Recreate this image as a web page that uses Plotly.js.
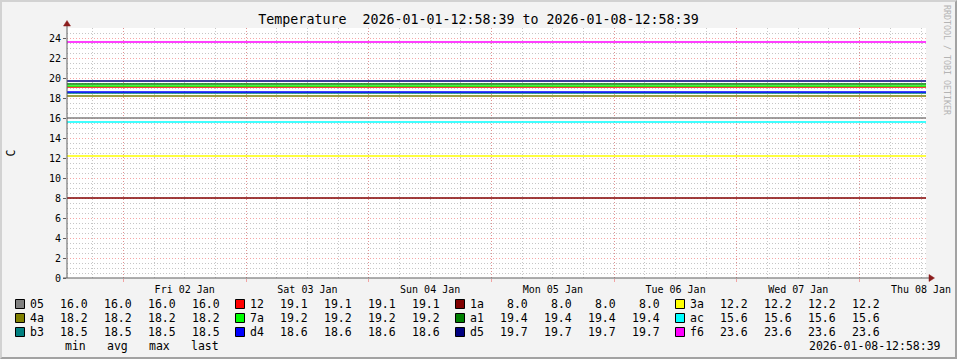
<!DOCTYPE html>
<html><head><meta charset="utf-8">
<script src="https://cdn.plot.ly/plotly-3.0.1.min.js"></script>
<style>
html,body{margin:0;padding:0;background:#f3f3f3}
#wrap{position:relative;width:957px;height:359px;overflow:hidden}
#chart{width:957px;height:359px}
#frame{position:absolute;left:0;top:0;width:957px;height:359px;box-sizing:border-box;border-top:2px solid #d2d2d2;border-left:2px solid #d2d2d2;border-right:2px solid #a2a2a2;border-bottom:2px solid #a2a2a2;pointer-events:none}
</style></head><body>
<div id="wrap"><div id="chart"></div><div id="frame"></div></div>
<script>
// ---- data ----
const seriesNames  = ["05","12","1a","3a","4a","7a","a1","ac","b3","d4","d5","f6"];
const seriesColors = ["#808080","#FF0000","#800000","#FFFF00","#808000","#00FF00","#008000","#00FFFF","#008080","#0000FF","#000080","#FF00FF"];
const seriesValues = [16.0, 19.1, 8.0, 12.2, 18.2, 19.2, 19.4, 15.6, 18.5, 18.6, 19.7, 23.6];
const statMin  = [16.0, 19.1, 8.0, 12.2, 18.2, 19.2, 19.4, 15.6, 18.5, 18.6, 19.7, 23.6];
const statAvg  = [16.0, 19.1, 8.0, 12.2, 18.2, 19.2, 19.4, 15.6, 18.5, 18.6, 19.7, 23.6];
const statMax  = [16.0, 19.1, 8.0, 12.2, 18.2, 19.2, 19.4, 15.6, 18.5, 18.6, 19.7, 23.6];
const statLast = [16.0, 19.1, 8.0, 12.2, 18.2, 19.2, 19.4, 15.6, 18.5, 18.6, 19.7, 23.6];
const statHeaders = ["min","avg","max","last"];
const startTime = "2026-01-01 12:58:39";
const endTime   = "2026-01-08 12:58:39";
const startLabel = "2026-01-01-12:58:39";
const endLabel   = "2026-01-08-12:58:39";
const dayGridTimes  = ["2026-01-02 00:00","2026-01-03 00:00","2026-01-04 00:00","2026-01-05 00:00","2026-01-06 00:00","2026-01-07 00:00","2026-01-08 00:00"];
const dayLabelTimes = ["2026-01-02 12:00","2026-01-03 12:00","2026-01-04 12:00","2026-01-05 12:00","2026-01-06 12:00","2026-01-07 12:00","2026-01-08 12:00"];
const dayLabels     = ["Fri 02 Jan","Sat 03 Jan","Sun 04 Jan","Mon 05 Jan","Tue 06 Jan","Wed 07 Jan","Thu 08 Jan"];
const chartTitle = "Temperature";
const yLabel = "C";
const watermark = "RRDTOOL / TOBI OETIKER";

// ---- geometry ----
const W = 957, H = 359;
const M = {l:67, r:31, t:28, b:81};
const PW = W - M.l - M.r, PH = H - M.t - M.b;
const px = x => (x - M.l) / PW;
const py = y => (H - M.b - y) / PH;
const MONO = "DejaVu Sans Mono";
const MAJ = "rgba(240,110,110,0.6)";
const MIN = "#c6c6c6";
const DASH = "1px,2px";

const traces = seriesNames.map((n, i) => ({
  type: "scatter", mode: "lines", name: n,
  x: [startTime, endTime], y: [seriesValues[i], seriesValues[i]],
  line: {color: seriesColors[i], width: 1.6},
  xaxis: "x", yaxis: "y", showlegend: false, hoverinfo: "skip"
}));
traces.push({type:"scatter", mode:"lines", x:[startTime,endTime], y:[null,null],
  xaxis:"x2", yaxis:"y", showlegend:false, hoverinfo:"skip"});

const annotations = [];
const shapes = [];
const colOff = 220, rowH = 14, row0 = 304;
const valRight = [87.5, 131.5, 175.5, 219.5];
const hdrCenter = [75, 117, 159, 205];
const fnt = {family: MONO, size: 11.5, color: "#000"};
const ann = (x, y, text, xanchor, extra) => Object.assign({
  xref:"paper", yref:"paper", x: px(x), y: py(y), text, xanchor, yanchor:"middle",
  showarrow:false, font: fnt, borderpad:0, borderwidth:0
}, extra || {});

seriesNames.forEach((n, i) => {
  const row = Math.floor(i / 4), col = i % 4;
  const off = col * colOff, yc = row0 + row * rowH;
  shapes.push({type:"rect", xref:"paper", yref:"paper",
    x0: px(15.5 + off), x1: px(24.5 + off), y0: py(yc + 4.5), y1: py(yc - 4.5),
    fillcolor: seriesColors[i], line:{color:"#000", width:1}});
  annotations.push(ann(30 + off, yc, n, "left"));
  [statMin[i], statAvg[i], statMax[i], statLast[i]].forEach((v, k) => {
    annotations.push(ann(valRight[k] + off, yc, v.toFixed(1), "right"));
  });
});
statHeaders.forEach((h, k) => annotations.push(ann(hdrCenter[k], row0 + 3*rowH, h, "center")));
annotations.push(ann(941, row0 + 3*rowH, endLabel, "right"));
annotations.push(ann(947, 60, watermark, "center",
  {textangle: 90, font:{family: MONO, size: 8.3, color:"#b4b4b4"}}));

// axis lines and arrows
const AX = "#5f5f5f", ARR = "#8b1c1c";
shapes.push({type:"line", xref:"paper", yref:"paper", x0:px(67), x1:px(67), y0:py(278), y1:py(24), line:{color:AX, width:1}});
shapes.push({type:"line", xref:"paper", yref:"paper", x0:px(63), x1:px(930), y0:py(278), y1:py(278), line:{color:AX, width:1}});
shapes.push({type:"path", xref:"paper", yref:"paper", fillcolor:ARR, line:{color:ARR, width:0.5},
  path:`M ${px(67)} ${py(20.5)} L ${px(63.5)} ${py(26)} L ${px(70.5)} ${py(26)} Z`});
shapes.push({type:"path", xref:"paper", yref:"paper", fillcolor:ARR, line:{color:ARR, width:0.5},
  path:`M ${px(934.5)} ${py(278)} L ${px(929)} ${py(274.5)} L ${px(929)} ${py(281.5)} Z`});

const layout = {
  width: W, height: H, margin: M,
  paper_bgcolor: "#f3f3f3", plot_bgcolor: "#ffffff",
  font: {family: MONO, color: "#000"},
  title: {text: chartTitle + "  " + startLabel + " to " + endLabel,
    font: {family: MONO, size: 13.3, color: "#000"},
    x: 0.5, xref: "container", y: 1 - 19/H, yref: "container", yanchor: "middle"},
  xaxis: {
    type: "date", range: [startTime, endTime],
    tickmode: "array", tickvals: dayGridTimes, showticklabels: false,
    showgrid: true, gridcolor: MAJ, griddash: DASH, gridwidth: 1,
    ticks: "outside", ticklen: 3, tickcolor: MAJ,
    minor: {tickmode: "linear", tick0: "2026-01-01 00:00", dtick: 21600000,
      showgrid: true, gridcolor: MIN, griddash: DASH, gridwidth: 1, ticks: ""},
    showline: false, zeroline: false, fixedrange: true
  },
  xaxis2: {
    type: "date", range: [startTime, endTime], overlaying: "x", anchor: "y", side: "bottom",
    tickmode: "array", tickvals: dayLabelTimes, ticktext: dayLabels,
    showgrid: false, ticks: "", showline: false, zeroline: false,
    tickfont: {family: MONO, size: 10, color: "#000"}, ticklabelstandoff: 4
  },
  yaxis: {
    range: [0, 25], tickmode: "linear", tick0: 0, dtick: 2,
    showgrid: true, gridcolor: MAJ, griddash: DASH, gridwidth: 1,
    ticks: "outside", ticklen: 3, tickcolor: AX,
    minor: {tickmode: "linear", tick0: 0, dtick: 0.5, showgrid: true, gridcolor: MIN, griddash: DASH, gridwidth: 1, ticks: ""},
    tickfont: {family: MONO, size: 10, color: "#000"},
    showline: false, zeroline: false,
    title: {text: yLabel, font: {family: MONO, size: 11.5, color: "#000"}, standoff: 30}
  },
  shapes, annotations, showlegend: false
};
Plotly.newPlot("chart", traces, layout, {staticPlot: true, displayModeBar: false});
</script>
</body></html>
